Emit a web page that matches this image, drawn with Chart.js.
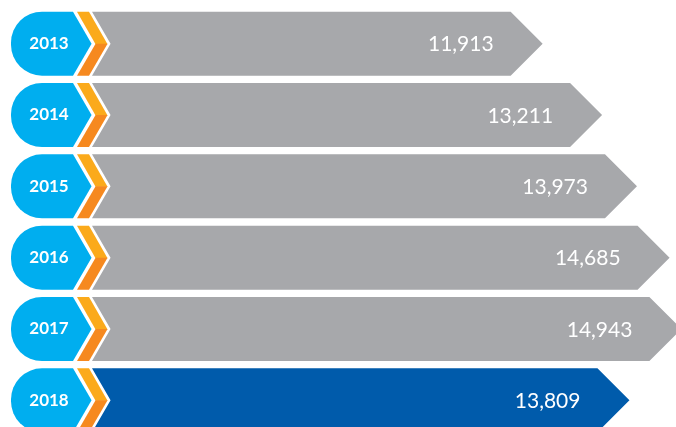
<!DOCTYPE html>
<html>
<head>
<meta charset="utf-8">
<script src="https://cdn.jsdelivr.net/npm/chart.js@4/dist/chart.umd.min.js"></script>
<style>
  html, body { margin: 0; padding: 0; background: #ffffff; overflow: hidden; }
  canvas { display: block; }
</style>
</head>
<body>
<canvas id="chart" width="676" height="440"></canvas>
<script>
// Yearly totals
const years = ['2013', '2014', '2015', '2016', '2017', '2018'];
const totals = [11913, 13211, 13973, 14685, 14943, 13809];
const highlightYear = '2018';

const GRAY = '#a7a8ab';
const BLUE = '#005bab';
const PILL = '#00aeef';
const YELLOW = '#fbaa1b';
const ORANGE = '#f6891f';

const fmt = new Intl.NumberFormat('en-US');

// Draws each bar as an arrow, preceded by a year tab and a two-tone chevron.
const arrowBars = {
  id: 'arrowBars',
  beforeDatasetDraw() { return false; },
  afterDatasetsDraw(chart) {
    const c = chart.ctx;
    const meta = chart.getDatasetMeta(0);
    const left = chart.chartArea.left;
    c.save();
    meta.data.forEach((bar, i) => {
      const { x, y, height } = bar.getProps(['x', 'y', 'height'], true);
      const half = height / 2;
      const top = y - half, bot = y + half;
      const slant = height * 0.29;

      // year tab: rounded left side, pointed right side
      const pl = left + 11, pr = left + 73, r = 31;
      c.fillStyle = PILL;
      c.beginPath();
      c.moveTo(pl + r, top);
      c.lineTo(pr, top);
      c.lineTo(pr + slant, y);
      c.lineTo(pr, bot);
      c.lineTo(pl + r, bot);
      c.arcTo(pl, bot, pl, bot - r, r);
      c.lineTo(pl, top + r);
      c.arcTo(pl, top, pl + r, top, r);
      c.closePath();
      c.fill();

      // chevron: yellow upper half, orange lower half
      const cl = left + 77, cw = 12;
      c.fillStyle = YELLOW;
      c.beginPath();
      c.moveTo(cl, top);
      c.lineTo(cl + cw, top);
      c.lineTo(cl + cw + slant, y + 0.5);
      c.lineTo(cl + slant, y + 0.5);
      c.closePath();
      c.fill();
      c.fillStyle = ORANGE;
      c.beginPath();
      c.moveTo(cl + slant, y);
      c.lineTo(cl + cw + slant, y);
      c.lineTo(cl + cw, bot);
      c.lineTo(cl, bot);
      c.closePath();
      c.fill();

      // arrow body ending at the value
      const bl = left + 92;
      c.fillStyle = bar.options.backgroundColor;
      c.beginPath();
      c.moveTo(bl, top);
      c.lineTo(x - half, top);
      c.lineTo(x, y);
      c.lineTo(x - half, bot);
      c.lineTo(bl, bot);
      c.lineTo(bl + slant, y);
      c.closePath();
      c.fill();

      // labels
      c.fillStyle = '#ffffff';
      c.textBaseline = 'middle';
      c.font = 'bold 17px Lato, "Open Sans", sans-serif';
      c.textAlign = 'center';
      c.fillText(years[i], left + 49, y);
      c.font = '21px Lato, "Open Sans", sans-serif';
      c.textAlign = 'right';
      c.fillText(fmt.format(totals[i]), x - 49, y + 1);
    });
    c.restore();
  }
};

new Chart(document.getElementById('chart'), {
  type: 'bar',
  data: {
    labels: years,
    datasets: [{
      data: totals,
      barThickness: 64,
      backgroundColor: ctx => years[ctx.dataIndex] === highlightYear ? BLUE : GRAY
    }]
  },
  options: {
    indexAxis: 'y',
    responsive: false,
    animation: false,
    layout: { padding: { top: 8, bottom: 4, left: 0, right: 0 } },
    scales: {
      x: { display: false, min: 65, max: 14825 },
      y: { display: false }
    },
    plugins: {
      legend: { display: false },
      tooltip: { enabled: false }
    }
  },
  plugins: [arrowBars]
});
</script>
</body>
</html>
